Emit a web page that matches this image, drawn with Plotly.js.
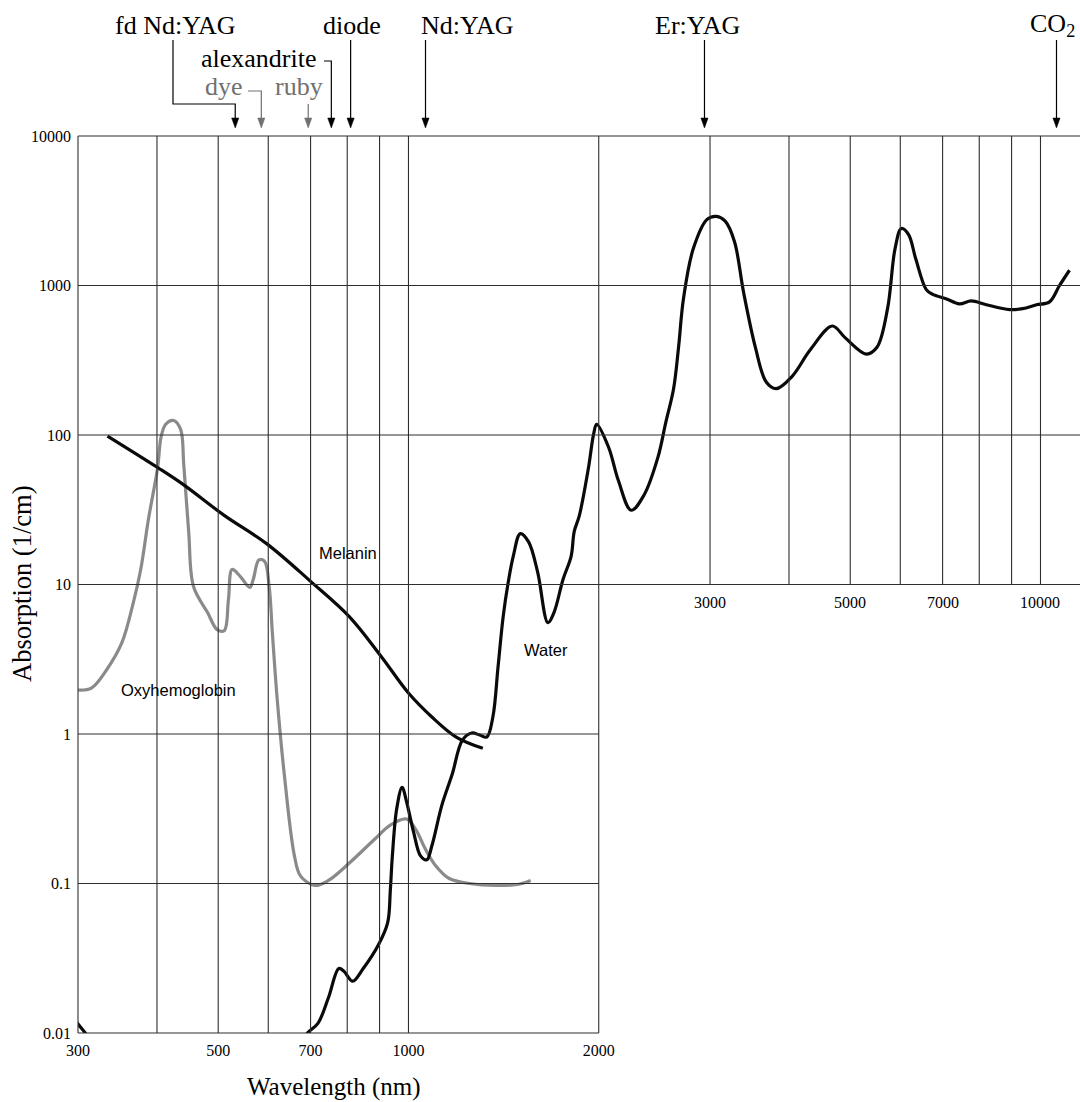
<!DOCTYPE html>
<html>
<head>
<meta charset="utf-8">
<script src="https://cdn.plot.ly/plotly-3.0.1.min.js"></script>
<style>html,body{margin:0;padding:0;background:#fff}#chart{width:1080px;height:1102px}</style>
</head>
<body>
<div id="chart"></div>
<script>
// ---------------- data ----------------
const melaninWl  = [334, 401, 441, 511, 597, 700, 806, 906, 1000, 1089, 1190, 1311];
const melaninAbs = [98.4, 60.6, 46.4, 29.0, 18.7, 10.5, 6.10, 3.29, 1.88, 1.30, 0.954, 0.802];

const oxyWl  = [300, 315, 333, 352, 367, 377, 388, 401, 406, 413, 425, 436, 441, 449, 457, 481, 498, 511, 519, 526,
                542, 561, 568, 580, 592, 602, 609, 620, 636, 660, 675, 711, 747, 806, 883, 936, 993, 1026, 1065, 1105,
                1160, 1249, 1381, 1487, 1561];
const oxyAbs = [1.97, 2.03, 2.69, 4.08, 7.57, 12.6, 27.7, 60.6, 96.9, 118, 125, 109, 63.5, 22.6, 9.69, 6.49, 4.99, 4.91, 7.93, 12.6,
                11.3, 9.55, 10.8, 14.6, 14.3, 9.69, 4.76, 1.69, 0.540, 0.153, 0.112, 0.0970, 0.1048, 0.137, 0.197, 0.246, 0.270, 0.231, 0.168, 0.131,
                0.108, 0.100, 0.0970, 0.0985, 0.1048];

const waterUvWl  = [296, 300, 308, 311];
const waterUvAbs = [0.0125, 0.0115, 0.0100, 0.0093];

const waterWl  = [682, 692, 719, 747, 776, 791, 816, 848, 896, 927, 936, 943, 958, 977, 993, 1019, 1045, 1069, 1089, 1130,
                  1173, 1217, 1259, 1296, 1330, 1360, 1386, 1412, 1438, 1465, 1503, 1549, 1601, 1662, 1699, 1756, 1809, 1829, 1864, 1927,
                  1963, 1985, 2073, 2149, 2251, 2359, 2481, 2553, 2627, 2675, 2723, 2822, 2968, 3070, 3173, 3280, 3390, 3539, 3682, 3818,
                  4046, 4320, 4684, 4906, 5301, 5511, 5728, 5886, 6023, 6184, 6349, 6592, 6743, 7102, 7441, 7772, 8210, 8936, 9368, 9854,
                  10333, 10717, 11114];
const waterAbs = [0.0090, 0.0100, 0.0116, 0.0172, 0.0270, 0.0258, 0.0222, 0.0270, 0.0388, 0.0548, 0.090, 0.153, 0.316, 0.440, 0.353, 0.220, 0.153, 0.144, 0.179, 0.337,
                  0.540, 0.910, 1.016, 0.984, 0.954, 1.30, 2.82, 6.10, 10.3, 15.5, 21.9, 19.3, 12.1, 5.56, 6.49, 10.8, 15.5, 22.6, 29.0, 60.6,
                  101.5, 117.8, 82.8, 49.4, 31.4, 39.7, 70.8, 121, 204, 386, 812, 1758, 2768, 2901, 2683, 1961, 901, 386, 226, 204,
                  247, 370, 536, 448, 348, 386, 700, 1758, 2404, 2188, 1503, 943, 875, 812, 754, 788, 743, 690, 700, 743,
                  777, 1000, 1265];

const xTickVals   = [300, 500, 700, 1000, 2000];
const xTickVals2  = [3000, 5000, 7000, 10000];
const yTickVals   = [0.01, 0.1, 1, 10, 100, 1000, 10000];
const yTickText   = ['0.01', '0.1', '1', '10', '100', '1000', '10000'];

const gridHFull  = [10, 100, 1000, 10000];
const gridHShort = [0.01, 0.1, 1];
const gridVFull  = [300, 400, 500, 600, 700, 800, 900, 1000, 2000];
const gridVShort = [3000, 4000, 5000, 6000, 7000, 8000, 9000, 10000];

const laserNames = ['fd Nd:YAG', 'dye', 'ruby', 'alexandrite', 'diode', 'Nd:YAG', 'Er:YAG', 'CO<sub>2</sub>'];
const laserWl    = [532, 585, 694, 755, 810, 1064, 2940, 10600];

// ---------------- layout helpers ----------------
const W = 1080, H = 1102, L = 78, R = 0, T = 136, B = 69;
const PW = W - L - R, PH = H - T - B;
const xr = [Math.log10(300), 4.0625], yr = [-2, 4];
function xp(v) { return (Math.log10(v) - xr[0]) / (xr[1] - xr[0]); }
function yp(v) { return (Math.log10(v) - yr[0]) / (yr[1] - yr[0]); }
function pxX(p) { return (p - L) / PW; }
function pxY(p) { return (H - B - p) / PH; }

const serif = 'Liberation Serif, Times New Roman, serif';
const sans = 'Liberation Sans, Arial, sans-serif';
const gridColor = '#2e2e2e';
const grayLabel = '#707070';

// label placement (pixels) per laser
const labelStyle = {
  'fd Nd:YAG':   {tx: 175, ty: 25, color: '#000', leader: (X) => [[173, 40], [173, 104], [X, 104], [X, 119]]},
  'dye':         {tx: 224, ty: 87, color: grayLabel, leader: (X) => [[248, 91], [X, 91], [X, 119]]},
  'ruby':        {tx: 299, ty: 87, color: grayLabel, leader: (X) => [[X, 104], [X, 119]]},
  'alexandrite': {tx: 259, ty: 58, color: '#000', leader: (X) => [[324, 61], [X, 61], [X, 119]]},
  'diode':       {tx: 352, ty: 25, color: '#000', leader: (X) => [[X, 40], [X, 119]]},
  'Nd:YAG':      {tx: 467, ty: 25, color: '#000', leader: (X) => [[X, 40], [X, 119]]},
  'Er:YAG':      {tx: 697, ty: 25, color: '#000', leader: (X) => [[X, 40], [X, 119]]},
  'CO<sub>2</sub>': {tx: 1052, ty: 25, color: '#000', leader: (X) => [[X, 40], [X, 119]]}
};

const shapes = [];
gridHFull.forEach(v => shapes.push({type: 'line', xref: 'paper', yref: 'paper', x0: xp(300), x1: 1, y0: yp(v), y1: yp(v), line: {color: gridColor, width: 1.1}}));
gridHShort.forEach(v => shapes.push({type: 'line', xref: 'paper', yref: 'paper', x0: xp(300), x1: xp(2000), y0: yp(v), y1: yp(v), line: {color: gridColor, width: 1.1}}));
gridVFull.forEach(v => shapes.push({type: 'line', xref: 'paper', yref: 'paper', x0: xp(v), x1: xp(v), y0: yp(0.01), y1: yp(10000), line: {color: gridColor, width: 1.1}}));
gridVShort.forEach(v => shapes.push({type: 'line', xref: 'paper', yref: 'paper', x0: xp(v), x1: xp(v), y0: yp(10), y1: yp(10000), line: {color: gridColor, width: 1.1}}));

const annotations = [];
laserNames.forEach((name, i) => {
  const st = labelStyle[name];
  const Xpix = L + xp(laserWl[i]) * PW;
  const pts = st.leader(Xpix);
  const path = pts.map((p, k) => (k ? 'L' : 'M') + pxX(p[0]).toFixed(5) + ',' + pxY(p[1]).toFixed(5)).join(' ');
  shapes.push({type: 'path', xref: 'paper', yref: 'paper', path: path, line: {color: st.color, width: 1.2}});
  const head = 'M' + pxX(Xpix).toFixed(5) + ',' + pxY(128).toFixed(5) +
               ' L' + pxX(Xpix - 3.6).toFixed(5) + ',' + pxY(118).toFixed(5) +
               ' L' + pxX(Xpix + 3.6).toFixed(5) + ',' + pxY(118).toFixed(5) + ' Z';
  shapes.push({type: 'path', xref: 'paper', yref: 'paper', path: head, fillcolor: st.color, line: {color: st.color, width: 0.5}});
  annotations.push({xref: 'paper', yref: 'paper', x: pxX(st.tx), y: pxY(st.ty), xanchor: 'center', yanchor: 'middle',
    text: name, showarrow: false, font: {family: serif, size: 26, color: st.color}});
});

xTickVals2.forEach(v => annotations.push({xref: 'paper', yref: 'paper', x: xp(v), y: pxY(602), xanchor: 'center', yanchor: 'middle',
  text: String(v), showarrow: false, font: {family: serif, size: 16, color: '#000'}}));

annotations.push({xref: 'paper', yref: 'paper', x: pxX(348), y: pxY(553), text: 'Melanin', showarrow: false, xanchor: 'center', yanchor: 'middle', font: {family: sans, size: 16.5, color: '#000'}});
annotations.push({xref: 'paper', yref: 'paper', x: pxX(546), y: pxY(650), text: 'Water', showarrow: false, xanchor: 'center', yanchor: 'middle', font: {family: sans, size: 16.5, color: '#000'}});
annotations.push({xref: 'paper', yref: 'paper', x: pxX(178), y: pxY(690), text: 'Oxyhemoglobin', showarrow: false, xanchor: 'center', yanchor: 'middle', font: {family: sans, size: 16.5, color: '#000'}});

annotations.push({xref: 'paper', yref: 'paper', x: pxX(334), y: pxY(1087), text: 'Wavelength (nm)', showarrow: false, xanchor: 'center', yanchor: 'middle', font: {family: serif, size: 25, color: '#000'}});
annotations.push({xref: 'paper', yref: 'paper', x: pxX(22), y: pxY(584), text: 'Absorption (1/cm)', textangle: -90, showarrow: false, xanchor: 'center', yanchor: 'middle', font: {family: serif, size: 26.5, color: '#000'}});

const lineStyle = (c) => ({color: c, width: 3.2, shape: 'spline', smoothing: 1});
const traces = [
  {x: oxyWl, y: oxyAbs, mode: 'lines', line: lineStyle('#8a8a8a'), name: 'Oxyhemoglobin'},
  {x: melaninWl, y: melaninAbs, mode: 'lines', line: lineStyle('#0a0a0a'), name: 'Melanin'},
  {x: waterUvWl, y: waterUvAbs, mode: 'lines', line: lineStyle('#0a0a0a'), name: 'Water (UV)'},
  {x: waterWl, y: waterAbs, mode: 'lines', line: lineStyle('#0a0a0a'), name: 'Water'}
];

const layout = {
  width: W, height: H,
  margin: {l: L, r: R, t: T, b: B, pad: 0},
  paper_bgcolor: '#fff', plot_bgcolor: '#fff',
  showlegend: false,
  xaxis: {type: 'log', range: xr, showgrid: false, zeroline: false, showline: false, ticks: '',
    tickmode: 'array', tickvals: xTickVals, ticktext: xTickVals.map(String), ticklabelstandoff: 6,
    tickfont: {family: serif, size: 16, color: '#000'}, fixedrange: true},
  yaxis: {type: 'log', range: yr, showgrid: false, zeroline: false, showline: false, ticks: '',
    tickmode: 'array', tickvals: yTickVals, ticktext: yTickText, ticklabelstandoff: 6,
    tickfont: {family: serif, size: 16, color: '#000'}, fixedrange: true},
  shapes: shapes,
  annotations: annotations
};

Plotly.newPlot('chart', traces, layout, {staticPlot: true, displayModeBar: false});
</script>
</body>
</html>
